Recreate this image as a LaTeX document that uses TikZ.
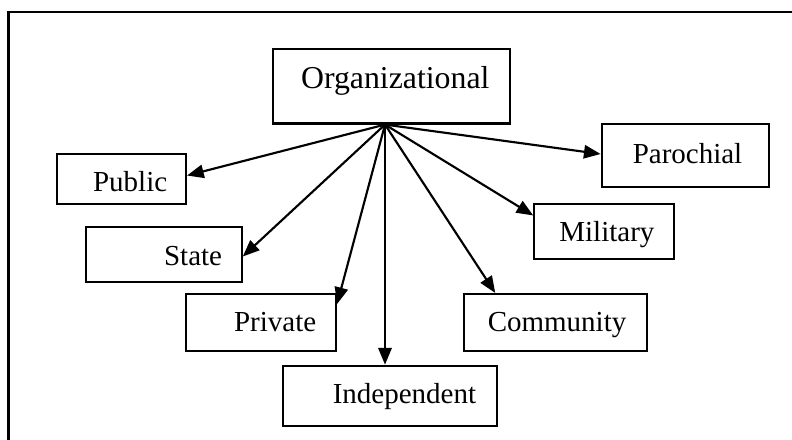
\documentclass[tikz,border=0pt]{standalone}
\usepackage{fontspec}
\setmainfont{Liberation Serif}
\usepackage{tikz}
\usetikzlibrary{arrows.meta,calc}
\tikzset{
  box/.style={draw, rectangle, inner sep=0pt, line width=1.6pt},
  lbl/.style={anchor=base west, inner sep=0pt, font=\fontsize{21.75}{26}\selectfont},
  conn/.style={line width=1.6pt, -{Triangle[length=12.5pt,width=10pt]}}
}

\begin{document}
\begin{tikzpicture}[x=0.75pt,y=0.75pt,yscale=-1,xscale=1,line width=1.6pt]
\useasboundingbox (0,0) rectangle (792,439);
%Frame
\draw [line width=1.6pt] (8.5,460) -- (8.5,12.3) -- (800,12.3) ;
%Boxes
\node [box, minimum width=178pt, minimum height=55.9pt] (org) at (391.35,86.25) {};
\node [box, minimum width=96.5pt, minimum height=37.5pt] (pub) at (121.65,179) {};
\node [box, minimum width=125.7pt, minimum height=47pt] (par) at (685.5,155.35) {};
\node [box, minimum width=104.8pt, minimum height=41.5pt] (mil) at (604.15,231.65) {};
\node [box, minimum width=117pt, minimum height=41.7pt] (sta) at (163.7,254.5) {};
\node [box, minimum width=112.7pt, minimum height=42.5pt] (pri) at (260.85,322.35) {};
\node [box, minimum width=160.5pt, minimum height=45.2pt] (ind) at (389.7,395.85) {};
\node [box, minimum width=137.25pt, minimum height=42.5pt] (com) at (555.8,322.35) {};
% Text Node
\node [lbl, font=\fontsize{23.85}{28}\selectfont] (org-t) at (300,88.3) {Organizational};
% Text Node
\node [lbl] (pub-t) at (92,191.7) {Public};
% Text Node
\node [lbl] (par-t) at (631.7,163.3) {Parochial};
% Text Node
\node [lbl] (mil-t) at (558.3,241.7) {Military};
% Text Node
\node [lbl] (sta-t) at (163,265) {State};
% Text Node
\node [lbl] (pri-t) at (233,331.7) {Private};
% Text Node
\node [lbl] (ind-t) at (331.7,403.3) {Independent};
% Text Node
\node [lbl] (com-t) at (486.7,331.7) {Community};
%Arrows
\coordinate (hub) at ([xshift=-4.76pt]org.south);
\draw [conn] (hub) -- ([yshift=-2.6pt]pub.east) ;
\draw [conn] (hub) -- ([yshift=1.5pt]sta.east) ;
\draw [conn] (hub) -- ([yshift=8.3pt]pri.north east) ;
\draw [conn] (hub) -- (hub |- ind.north) ;
\draw [conn] (hub) -- ([xshift=24pt]com.north west) ;
\draw [conn] (hub) -- ([yshift=9.4pt]mil.north west) ;
\draw [conn] (hub) -- ([yshift=-1pt]par.west) ;
\end{tikzpicture}
\end{document}
